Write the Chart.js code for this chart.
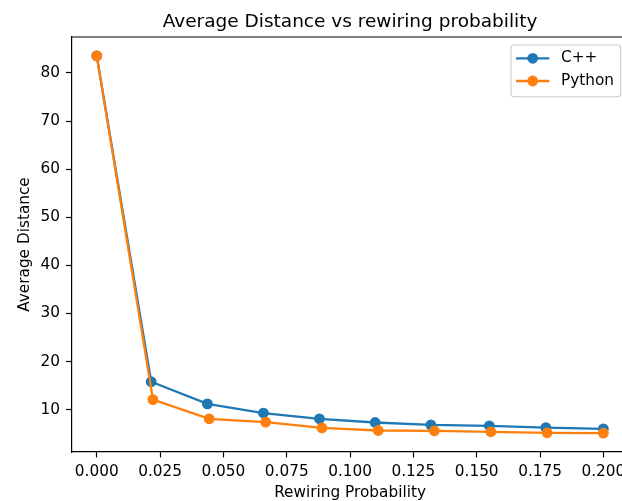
<!DOCTYPE html>
<html>
<head>
<meta charset="utf-8">
<title>Average Distance vs rewiring probability</title>
<script src="https://cdn.jsdelivr.net/npm/chart.js@4.4.0/dist/chart.umd.min.js"></script>
<style>
  html, body { margin: 0; padding: 0; overflow: hidden; background: #fff; }
  #wrap { width: 640px; height: 501px; }
</style>
</head>
<body>
<div id="wrap"><canvas id="myChart" width="640" height="501"></canvas></div>
<script>
// C++ run: rewiring probability and measured average distance
const cppProb = [0, 0.0215, 0.0437, 0.0658, 0.0879, 0.1099, 0.1319, 0.155, 0.1773, 0.2];
const cppDist = [83.55, 15.8, 11.2, 9.3, 8.1, 7.33, 6.85, 6.65, 6.27, 6.02];

// Python run
const pyProb = [0, 0.0222, 0.0444, 0.0667, 0.0889, 0.1111, 0.1333, 0.1556, 0.1778, 0.2];
const pyDist = [83.55, 12.1, 8.1, 7.4, 6.2, 5.67, 5.6, 5.4, 5.19, 5.12];

const xTicks = [0, 0.025, 0.05, 0.075, 0.1, 0.125, 0.15, 0.175, 0.2];
const yTicks = [10, 20, 30, 40, 50, 60, 70, 80];

const FONT = "'DejaVu Sans', sans-serif";
const BLUE = '#1f77b4';
const ORANGE = '#ff7f0e';

// 5% margin on each side, same as pyplot autoscale
function padRange(vals) {
    const lo = Math.min(...vals);
    const hi = Math.max(...vals);
    const m = (hi - lo) * 0.05;
    return [lo - m, hi + m];
}
const xRange = padRange(cppProb.concat(pyProb));
const yRange = padRange(cppDist.concat(pyDist));

Chart.defaults.font.family = FONT;
Chart.defaults.color = '#000';

function series(label, xs, ys, color, order) {
    return {
        label: label,
        data: xs.map((x, i) => ({x: x, y: ys[i]})),
        borderColor: color,
        backgroundColor: color,
        borderWidth: 2.3,
        pointRadius: 4.8,
        pointBorderWidth: 1.2,
        pointBackgroundColor: color,
        pointBorderColor: color,
        tension: 0,
        order: order,
    };
}

// top/right spines and the boxed legend in the upper right corner
const framePlugin = {
    id: 'frame',
    afterDraw(chart) {
        const {ctx, chartArea: a} = chart;
        ctx.save();
        ctx.strokeStyle = '#000';
        ctx.lineWidth = 1.2;
        ctx.beginPath();
        ctx.moveTo(a.left, a.top);
        ctx.lineTo(a.right, a.top);
        ctx.lineTo(a.right, a.bottom);
        ctx.stroke();

        const w = 109.7, h = 51.7;
        const left = a.right - 8 - w;
        const top = a.top + 8;
        ctx.fillStyle = 'rgba(255,255,255,0.8)';
        ctx.strokeStyle = '#cccccc';
        ctx.lineWidth = 1.1;
        ctx.beginPath();
        ctx.roundRect(left, top, w, h, 3);
        ctx.fill();
        ctx.stroke();

        const entries = chart.data.datasets.map(d => ({label: d.label, color: d.borderColor}));
        ctx.font = '15.3px ' + FONT;
        ctx.textBaseline = 'middle';
        ctx.textAlign = 'left';
        entries.forEach((e, i) => {
            const y = top + 13.3 + i * 22.7;
            ctx.strokeStyle = e.color;
            ctx.lineWidth = 2.3;
            ctx.beginPath();
            ctx.moveTo(left + 5, y);
            ctx.lineTo(left + 38.3, y);
            ctx.stroke();
            ctx.fillStyle = e.color;
            ctx.beginPath();
            ctx.arc(left + 21.7, y, 5.4, 0, Math.PI * 2);
            ctx.fill();
            ctx.fillStyle = '#000';
            ctx.fillText(e.label, left + 50, y);
        });
        ctx.restore();
    }
};

const ctx = document.getElementById('myChart');
const myChart = new Chart(ctx, {
    type: 'line',
    data: {
        datasets: [
            series('C++', cppProb, cppDist, BLUE, 1),
            series('Python', pyProb, pyDist, ORANGE, 0),
        ],
    },
    options: {
        responsive: false,
        animation: false,
        events: [],
        layout: {padding: {left: 0, right: 11.3, top: 0, bottom: 0}},
        plugins: {
            legend: {display: false},
            tooltip: {enabled: false},
            title: {
                display: true,
                text: 'Average Distance vs rewiring probability',
                fullSize: false,
                color: '#000',
                font: {size: 18.5, weight: 'normal', lineHeight: 1.2},
                padding: {top: 11.4, bottom: 3.4},
            },
        },
        scales: {
            x: {
                type: 'linear',
                min: xRange[0],
                max: xRange[1],
                afterBuildTicks: s => { s.ticks = xTicks.map(v => ({value: v})); },
                afterFit: s => { s.height = 49; },
                ticks: {
                    callback: v => Number(v).toFixed(3),
                    padding: 5.5,
                    maxRotation: 0,
                    autoSkip: false,
                    font: {size: 15.3},
                },
                grid: {drawOnChartArea: false, tickLength: 5.4, tickWidth: 1.2, tickColor: '#000'},
                border: {color: '#000', width: 1.2},
                title: {
                    display: true,
                    text: 'Rewiring Probability',
                    font: {size: 15.3, lineHeight: 1},
                    padding: {top: 0, bottom: 0.7},
                },
            },
            y: {
                type: 'linear',
                min: yRange[0],
                max: yRange[1],
                afterBuildTicks: s => { s.ticks = yTicks.map(v => ({value: v})); },
                afterFit: s => { s.width = 71.4; },
                ticks: {padding: 6, font: {size: 15.3}},
                grid: {drawOnChartArea: false, tickLength: 5.4, tickWidth: 1.2, tickColor: '#000'},
                border: {color: '#000', width: 1.2},
                title: {
                    display: true,
                    text: 'Average Distance',
                    font: {size: 15.3, lineHeight: 1},
                    padding: {top: 17, bottom: 0},
                },
            },
        },
    },
    plugins: [framePlugin],
});
</script>
</body>
</html>
